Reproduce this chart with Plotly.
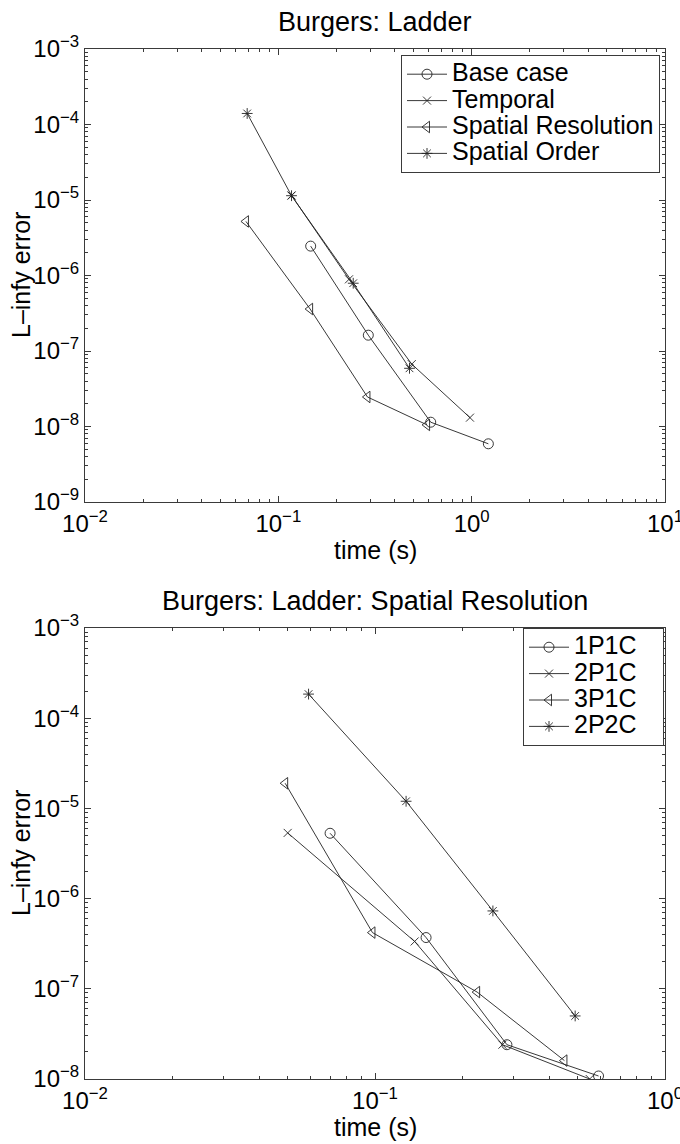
import numpy as np
import plotly.graph_objects as go

# ---------------- data ----------------
top_names = ["Base case", "Temporal", "Spatial Resolution", "Spatial Order"]
top_base_t = [0.147, 0.292, 0.614, 1.22]
top_base_e = [2.45e-6, 1.62e-7, 1.14e-8, 5.9e-9]
top_temp_t = [0.117, 0.232, 0.49, 0.98]
top_temp_e = [1.15e-5, 8.9e-7, 6.7e-8, 1.31e-8]
top_sres_t = [0.068, 0.146, 0.289, 0.588]
top_sres_e = [5.2e-6, 3.6e-7, 2.46e-8, 1.05e-8]
top_sord_t = [0.069, 0.117, 0.244, 0.477]
top_sord_e = [1.4e-4, 1.14e-5, 7.9e-7, 5.9e-8]

bot_names = ["1P1C", "2P1C", "3P1C", "2P2C"]
bot_1p1c_t = [0.07, 0.15, 0.285, 0.59]
bot_1p1c_e = [5.3e-6, 3.7e-7, 2.4e-8, 1.08e-8]
bot_2p1c_t = [0.05, 0.137, 0.275, 0.55]
bot_2p1c_e = [5.35e-6, 3.35e-7, 2.4e-8, 1.0e-8]
bot_3p1c_t = [0.049, 0.098, 0.225, 0.45]
bot_3p1c_e = [1.9e-5, 4.2e-7, 9.2e-8, 1.6e-8]
bot_2p2c_t = [0.059, 0.128, 0.255, 0.49]
bot_2p2c_e = [1.85e-4, 1.2e-5, 7.3e-7, 5.0e-8]

top_xexp = [-2, -1, 0, 1]
top_yexp = [-9, -8, -7, -6, -5, -4, -3]
bot_xexp = [-2, -1, 0]
bot_yexp = [-8, -7, -6, -5, -4, -3]

top_title = "Burgers: Ladder"
bot_title = "Burgers: Ladder: Spatial Resolution"
x_label = "time (s)"
y_label = "L\u2013infy error"

# ---------------- styling ----------------
W, H = 680, 1144
FONT = "Liberation Sans, Arial, Helvetica, sans-serif"
AX = "#3a3a3a"
symbols = ["circle-open", "x-thin-open", "triangle-left-open", "asterisk-open"]
sizes = [10, 8, 10, 9]

def px_x(p):
    return p / W

def px_y(p):
    return 1 - p / H

def leg_name(s, pad=0):
    return '<span style="font-size:25px">' + s + "&nbsp;" * pad + '</span>'

fig = go.Figure()

top_series = [(top_base_t, top_base_e), (top_temp_t, top_temp_e),
              (top_sres_t, top_sres_e), (top_sord_t, top_sord_e)]
bot_series = [(bot_1p1c_t, bot_1p1c_e), (bot_2p1c_t, bot_2p1c_e),
              (bot_3p1c_t, bot_3p1c_e), (bot_2p2c_t, bot_2p2c_e)]

for i, (t, e) in enumerate(top_series):
    fig.add_trace(go.Scatter(
        x=t, y=e, name=leg_name(top_names[i]), mode="lines+markers",
        line=dict(color="#222", width=0.9),
        marker=dict(symbol=symbols[i], size=sizes[i], color="#222",
                    line=dict(color="#222", width=0.9)),
        xaxis="x", yaxis="y", legend="legend"))

for i, (t, e) in enumerate(bot_series):
    fig.add_trace(go.Scatter(
        x=t, y=e, name=leg_name(bot_names[i], 3), mode="lines+markers",
        line=dict(color="#222", width=0.9),
        marker=dict(symbol=symbols[i], size=sizes[i], color="#222",
                    line=dict(color="#222", width=0.9)),
        xaxis="x2", yaxis="y2", legend="legend2"))

def exp_text(n):
    s = str(n).replace("-", "\u2212")
    return "10<sup>" + s + "</sup>"

def minor_vals(exps):
    vals = []
    for n in exps[:-1]:
        for k in range(2, 10):
            vals.append(k * 10.0 ** n)
    return vals

axis_common = dict(
    type="log", showgrid=False, zeroline=False, automargin=False,
    showline=True, linecolor=AX, linewidth=1, mirror="ticks",
    ticks="inside", ticklen=6, tickcolor=AX, tickwidth=1,
    ticklabeloverflow="allow",
    tickfont=dict(family=FONT, size=24, color="black"),
)

def minor(exps):
    return dict(tickmode="array", tickvals=minor_vals(exps),
                ticks="inside", ticklen=3, tickcolor=AX, showgrid=False)

x_dom = [px_x(85), px_x(665)]
top_ydom = [px_y(502), px_y(49)]
bot_ydom = [px_y(1079), px_y(628)]

legend_common = dict(xanchor="right", yanchor="top",
                     bgcolor="white", bordercolor=AX, borderwidth=1,
                     font=dict(family=FONT, size=18, color="black"),
                     tracegroupgap=0, itemwidth=40)

fig.update_layout(
    width=W, height=H, margin=dict(l=0, r=0, t=0, b=0, pad=0, autoexpand=False),
    paper_bgcolor="white", plot_bgcolor="white",
    font=dict(family=FONT, size=20, color="black"),
    xaxis=dict(axis_common, domain=x_dom, anchor="y",
               range=[top_xexp[0], top_xexp[-1]],
               tickmode="array", tickvals=[10.0 ** n for n in top_xexp],
               ticktext=[exp_text(n) for n in top_xexp], minor=minor(top_xexp)),
    yaxis=dict(axis_common, domain=top_ydom, anchor="x",
               range=[top_yexp[0], top_yexp[-1]],
               tickmode="array", tickvals=[10.0 ** n for n in top_yexp],
               ticktext=[exp_text(n) for n in top_yexp], minor=minor(top_yexp)),
    xaxis2=dict(axis_common, domain=x_dom, anchor="y2",
                range=[bot_xexp[0], bot_xexp[-1]],
                tickmode="array", tickvals=[10.0 ** n for n in bot_xexp],
                ticktext=[exp_text(n) for n in bot_xexp], minor=minor(bot_xexp)),
    yaxis2=dict(axis_common, domain=bot_ydom, anchor="x2",
                range=[bot_yexp[0], bot_yexp[-1]],
                tickmode="array", tickvals=[10.0 ** n for n in bot_yexp],
                ticktext=[exp_text(n) for n in bot_yexp], minor=minor(bot_yexp)),
    legend=dict(legend_common, x=px_x(660), y=px_y(55)),
    legend2=dict(legend_common, x=px_x(664), y=px_y(628)),
    showlegend=True,
)

annos = [
    (top_title, 375, 22, 0, 27),
    (x_label, 375, 550, 0, 25),
    (y_label, 21, 275, -90, 25),
    (bot_title, 375, 601, 0, 27),
    (x_label, 375, 1127, 0, 25),
    (y_label, 21, 853, -90, 25),
]
for text, x, y, ang, fs in annos:
    fig.add_annotation(text=text, x=px_x(x), y=px_y(y), xref="paper", yref="paper",
                       xanchor="center", yanchor="middle", showarrow=False,
                       textangle=ang, font=dict(family=FONT, size=fs, color="black"))

fig.write_html("out.html")
